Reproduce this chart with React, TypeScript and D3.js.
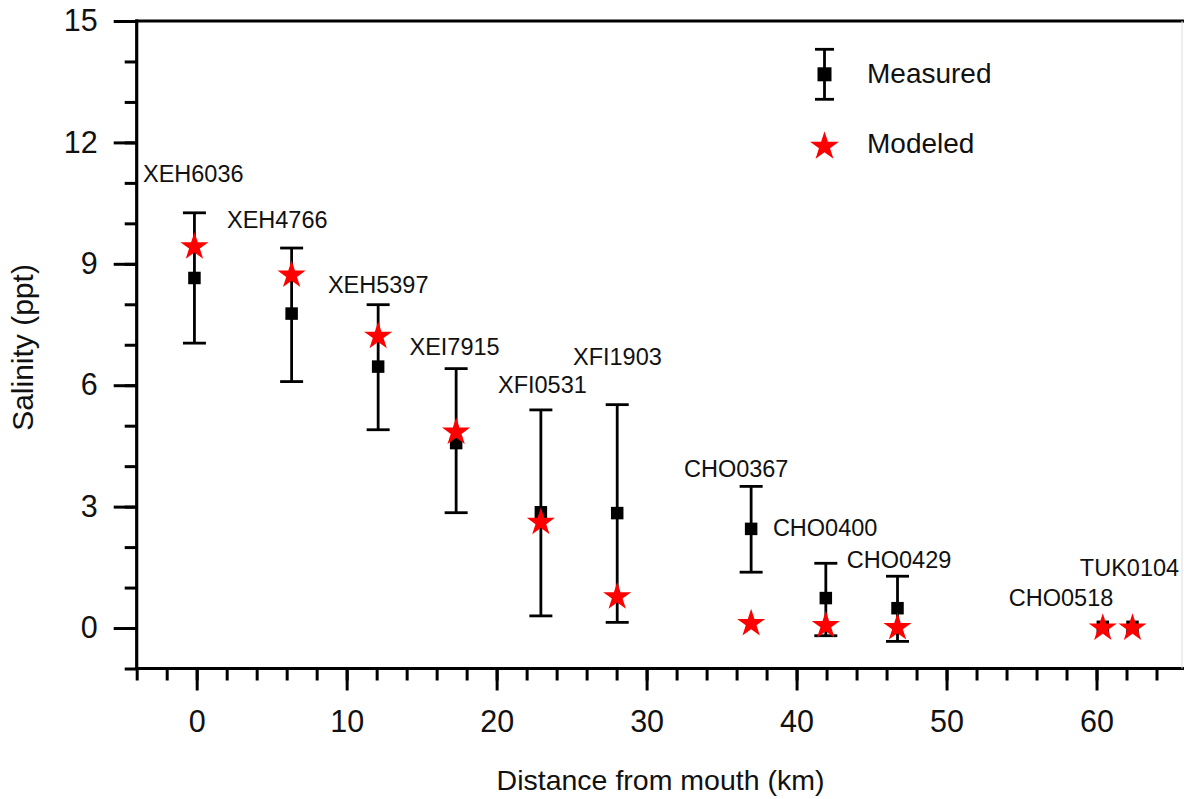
import React, { useEffect, useRef } from "react";
import * as d3 from "d3";

// ---- data ----
const stations = ["XEH6036", "XEH4766", "XEH5397", "XEI7915", "XFI0531", "XFI1903", "CHO0367", "CHO0400", "CHO0429", "CHO0518", "TUK0104"];
const distanceKm = [-0.15, 6.33, 12.1, 17.3, 22.95, 28.04, 36.97, 41.95, 46.73, 60.42, 62.4];
const measuredPpt = [8.65, 7.77, 6.46, 4.57, 2.86, 2.84, 2.45, 0.74, 0.49, 0.03, 0.03];
const measuredLow = [7.04, 6.09, 4.9, 2.85, 0.3, 0.14, 1.38, -0.19, -0.33, 0.03, 0.03];
const measuredHigh = [10.26, 9.39, 7.99, 6.41, 5.39, 5.52, 3.5, 1.6, 1.28, 0.03, 0.03];
const modeledPpt = [9.42, 8.72, 7.21, 4.84, 2.61, 0.77, 0.11, 0.06, 0.01, 0, 0];
// station label anchors (data units: km, ppt)
const labelKm = [-3.58, 2.02, 8.75, 14.19, 20.09, 25.09, 32.49, 38.42, 43.35, 54.15, 58.89];
const labelPpt = [11.02, 9.88, 8.27, 6.74, 5.8, 6.49, 3.74, 2.28, 1.49, 0.55, 1.29];

const xMajorTicks = [0, 10, 20, 30, 40, 50, 60];
const xMinorTicks = d3.range(-4, 66, 2);
const yMajorTicks = [0, 3, 6, 9, 12, 15];
const yMinorTicks = d3.range(-1, 16, 1);
const xDomain = [-4, 65.7];
const yDomain = [-1, 15];

const legendItems = ["Measured", "Modeled"];
const xTitle = "Distance from mouth (km)";
const yTitle = "Salinity (ppt)";

const W = 1184;
const H = 799;
const FONT = "'Liberation Sans', Arial, Helvetica, sans-serif";

export default function App() {
  const ref = useRef<SVGSVGElement | null>(null);

  useEffect(() => {
    const svg = d3.select(ref.current);
    svg.selectAll("*").remove();

    const left = 136.7, right = 1182, top = 21, bottom = 668.5;
    const x = d3.scaleLinear().domain(xDomain).range([left, right]);
    const y = d3.scaleLinear().domain(yDomain).range([bottom, top]);

    const g = svg.append("g").attr("font-family", FONT);

    const yMinor = g.append("g").attr("transform", `translate(${left},0)`)
      .call(d3.axisLeft(y).tickValues(yMinorTicks).tickSize(12).tickFormat(() => ""));
    const yMajor = g.append("g").attr("transform", `translate(${left},0)`)
      .call(d3.axisLeft(y).tickValues(yMajorTicks).tickSize(23).tickPadding(16).tickFormat(d3.format("d")));
    const xMinor = g.append("g").attr("transform", `translate(0,${bottom})`)
      .call(d3.axisBottom(x).tickValues(xMinorTicks).tickSize(12).tickFormat(() => ""));
    const xMajor = g.append("g").attr("transform", `translate(0,${bottom})`)
      .call(d3.axisBottom(x).tickValues(xMajorTicks).tickSize(22).tickPadding(20).tickFormat(d3.format("d")));

    [yMinor, yMajor, xMinor, xMajor].forEach((a) => {
      a.select(".domain").remove();
      a.selectAll(".tick line").attr("stroke", "#000").attr("stroke-width", 3);
      a.selectAll(".tick text").attr("fill", "#111").attr("font-size", 30.5).attr("font-family", FONT);
    });

    // frame
    g.append("line").attr("x1", left).attr("x2", left).attr("y1", top - 1.5).attr("y2", bottom + 1.5)
      .attr("stroke", "#000").attr("stroke-width", 3.2);
    g.append("line").attr("x1", left - 1.5).attr("x2", W).attr("y1", bottom).attr("y2", bottom)
      .attr("stroke", "#000").attr("stroke-width", 3.2);
    g.append("line").attr("x1", left - 1.5).attr("x2", W).attr("y1", top).attr("y2", top)
      .attr("stroke", "#000").attr("stroke-width", 3.2);
    g.append("line").attr("x1", right).attr("x2", right).attr("y1", top).attr("y2", bottom)
      .attr("stroke", "#ddd").attr("stroke-width", 1);

    // axis titles
    g.append("text").attr("x", 660.5).attr("y", 790).attr("text-anchor", "middle")
      .attr("font-size", 28.5).attr("fill", "#111").text(xTitle);
    g.append("text").attr("transform", `translate(33,347.5) rotate(-90)`).attr("text-anchor", "middle")
      .attr("font-size", 30).attr("fill", "#111").text(yTitle);

    const idx = d3.range(stations.length);
    const capW = 23;

    // error bars
    const eb = g.append("g").attr("stroke", "#000").attr("stroke-width", 2.8);
    idx.forEach((i) => {
      const cx = x(distanceKm[i]);
      if (measuredHigh[i] === measuredLow[i]) return;
      eb.append("line").attr("x1", cx).attr("x2", cx).attr("y1", y(measuredHigh[i])).attr("y2", y(measuredLow[i]));
      eb.append("line").attr("x1", cx - capW / 2).attr("x2", cx + capW / 2).attr("y1", y(measuredHigh[i])).attr("y2", y(measuredHigh[i]));
      eb.append("line").attr("x1", cx - capW / 2).attr("x2", cx + capW / 2).attr("y1", y(measuredLow[i])).attr("y2", y(measuredLow[i]));
    });

    // squares
    const sq = 12.5;
    g.append("g").selectAll("rect").data(idx).join("rect")
      .attr("x", (i) => x(distanceKm[i]) - sq / 2)
      .attr("y", (i) => y(measuredPpt[i]) - sq / 2)
      .attr("width", sq).attr("height", sq).attr("fill", "#000");

    // stars
    const star = d3.symbol().type(d3.symbolStar).size(245);
    g.append("g").selectAll("path").data(idx).join("path")
      .attr("d", star() as string)
      .attr("transform", (i) => `translate(${x(distanceKm[i])},${y(modeledPpt[i])})`)
      .attr("fill", "#ff0000");

    // station labels
    g.append("g").selectAll("text").data(idx).join("text")
      .attr("x", (i) => x(labelKm[i]))
      .attr("y", (i) => y(labelPpt[i]))
      .attr("font-size", 23.5).attr("fill", "#111")
      .text((i) => stations[i]);

    // legend
    const lg = g.append("g");
    const lx = 824.5;
    lg.append("line").attr("x1", lx).attr("x2", lx).attr("y1", 49.3).attr("y2", 99.3).attr("stroke", "#000").attr("stroke-width", 2.8);
    lg.append("line").attr("x1", lx - 9.5).attr("x2", lx + 9.5).attr("y1", 49.3).attr("y2", 49.3).attr("stroke", "#000").attr("stroke-width", 2.8);
    lg.append("line").attr("x1", lx - 9.5).attr("x2", lx + 9.5).attr("y1", 99.3).attr("y2", 99.3).attr("stroke", "#000").attr("stroke-width", 2.8);
    lg.append("rect").attr("x", lx - 7).attr("y", 74.3 - 7).attr("width", 14).attr("height", 14).attr("fill", "#000");
    lg.append("path").attr("d", d3.symbol().type(d3.symbolStar).size(260)() as string)
      .attr("transform", `translate(${lx},146.4)`).attr("fill", "#ff0000");
    lg.append("text").attr("x", 867).attr("y", 83.3).attr("font-size", 28).attr("fill", "#111").text(legendItems[0]);
    lg.append("text").attr("x", 867).attr("y", 153).attr("font-size", 28).attr("fill", "#111").text(legendItems[1]);
  }, []);

  return (
    <svg
      ref={ref}
      width={W}
      height={H}
      style={{ position: "absolute", left: 0, top: 0, background: "#fff", display: "block" }}
    />
  );
}
